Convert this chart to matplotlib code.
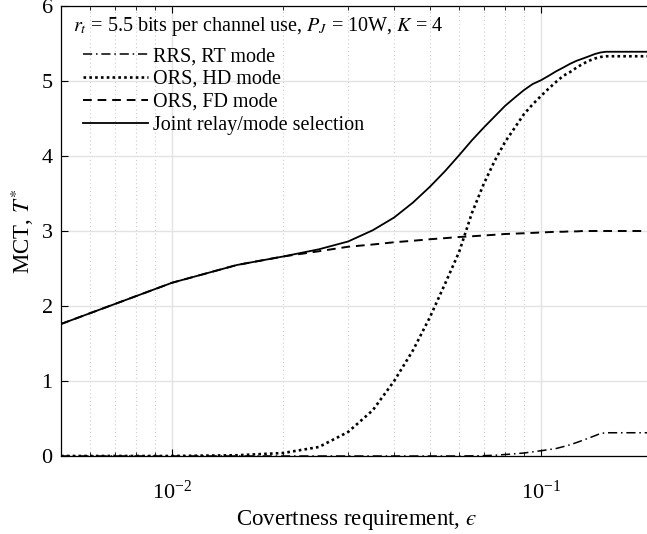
import numpy as np
import matplotlib
matplotlib.use("Agg")
import matplotlib.pyplot as plt
from matplotlib.ticker import LogLocator, NullFormatter, FixedLocator

plt.rcParams['font.family'] = ['Liberation Serif', 'DejaVu Serif']
plt.rcParams['mathtext.fontset'] = 'stix'

# covertness requirement, sampled every 0.005
eps = [0.005, 0.010, 0.015, 0.020, 0.025, 0.030, 0.035, 0.040, 0.045, 0.050,
       0.055, 0.060, 0.065, 0.070, 0.075, 0.080, 0.085, 0.090, 0.095, 0.100,
       0.105, 0.110, 0.115, 0.120, 0.125, 0.130, 0.135, 0.140, 0.145, 0.150,
       0.155, 0.160, 0.165, 0.170, 0.175, 0.180, 0.185, 0.190, 0.195, 0.200]

rrs_rt = [0.0, 0.0, 0.0, 0.0, 0.0, 0.0, 0.0, 0.0, 0.0, 0.0,
          0.0, 0.0, 0.002, 0.005, 0.01, 0.02, 0.03, 0.04, 0.055, 0.07,
          0.085, 0.10, 0.125, 0.15, 0.18, 0.21, 0.24, 0.27, 0.30, 0.31,
          0.31, 0.31, 0.31, 0.31, 0.31, 0.31, 0.31, 0.31, 0.31, 0.31]

ors_hd = [0.0, 0.0, 0.01, 0.04, 0.12, 0.32, 0.61, 1.00, 1.41, 1.85,
          2.30, 2.72, 3.24, 3.63, 3.94, 4.19, 4.38, 4.56, 4.69, 4.80,
          4.90, 4.99, 5.07, 5.12, 5.18, 5.23, 5.27, 5.30, 5.32, 5.33,
          5.33, 5.33, 5.33, 5.33, 5.33, 5.33, 5.33, 5.33, 5.33, 5.33]

ors_fd = [1.76, 2.31, 2.547, 2.66, 2.73, 2.79, 2.82, 2.85, 2.87, 2.89,
          2.905, 2.92, 2.93, 2.94, 2.95, 2.96, 2.965, 2.97, 2.975, 2.98,
          2.985, 2.99, 2.99, 2.995, 2.995, 3.0, 3.0, 3.0, 3.0, 3.0,
          3.0, 3.0, 3.0, 3.0, 3.0, 3.0, 3.0, 3.0, 3.0, 3.0]

joint = [1.76, 2.31, 2.547, 2.66, 2.756, 2.86, 3.01, 3.18, 3.38, 3.59,
         3.80, 4.01, 4.21, 4.38, 4.53, 4.67, 4.78, 4.88, 4.96, 5.01,
         5.07, 5.13, 5.18, 5.23, 5.27, 5.30, 5.33, 5.36, 5.38, 5.39,
         5.39, 5.39, 5.39, 5.39, 5.39, 5.39, 5.39, 5.39, 5.39, 5.39]

W, H = 647, 534
fig = plt.figure(figsize=(W/100, H/100), dpi=100)
# axes runs a little past the right edge of the picture
ax = fig.add_axes([61/W, 1-456/H, (652-61)/W, 450/H])

ax.plot(eps, rrs_rt, color='k', lw=1.1, ls=(0, (6, 2.5, 1, 2.5)), label='RRS, RT mode')
ax.plot(eps, ors_hd, color='k', lw=1.9, ls=(0, (1, 1.2)), label='ORS, HD mode')
ax.plot(eps, ors_fd, color='k', lw=1.4, ls=(0, (4.5, 3)), label='ORS, FD mode')
ax.plot(eps, joint, color='k', lw=1.3, ls='-', label='Joint relay/mode selection')

ax.set_xscale('log')
ax.set_xlim(0.005, 0.2)
ax.set_ylim(0, 6)
ax.yaxis.set_major_locator(FixedLocator([0, 1, 2, 3, 4, 5, 6]))
ax.xaxis.set_major_locator(LogLocator(base=10))
ax.xaxis.set_minor_locator(LogLocator(base=10, subs=np.arange(2, 10)))
ax.xaxis.set_minor_formatter(NullFormatter())

ax.grid(True, which='major', color='#e3e3e3', lw=1.0, ls='-')
ax.grid(True, which='minor', axis='x', color='#cccccc', lw=0.8, ls=(0, (1, 2.5)))
ax.set_axisbelow(True)

ax.tick_params(which='both', direction='in', top=True, right=False, labelsize=16)
ax.tick_params(which='major', length=5, width=0.8)
ax.tick_params(which='minor', length=3, width=0.6)
ax.tick_params(axis='x', which='major', pad=18)
ax.tick_params(axis='y', which='major', pad=6)
for sp in ax.spines.values():
    sp.set_linewidth(0.9)

ax.set_xlabel('Covertness requirement, $\u03f5$', fontsize=16.5, labelpad=3)
ax.set_ylabel(r'MCT, $T^{*}$', fontsize=16.5, labelpad=4)

ax.text(12/591, (456-27)/450, r'$r_t$ = 5.5 bits per channel use, $P_J$ = 10W, $K$ = 4',
        transform=ax.transAxes, fontsize=14.5, va='center', ha='left')
ax.legend(loc='upper left', bbox_to_anchor=((83-61)/591, (456-47)/450),
          frameon=False, fontsize=14.5, borderpad=0, borderaxespad=0,
          handlelength=3.25, handletextpad=0.25, labelspacing=0.19)

fig.savefig('out.png', dpi=100)
